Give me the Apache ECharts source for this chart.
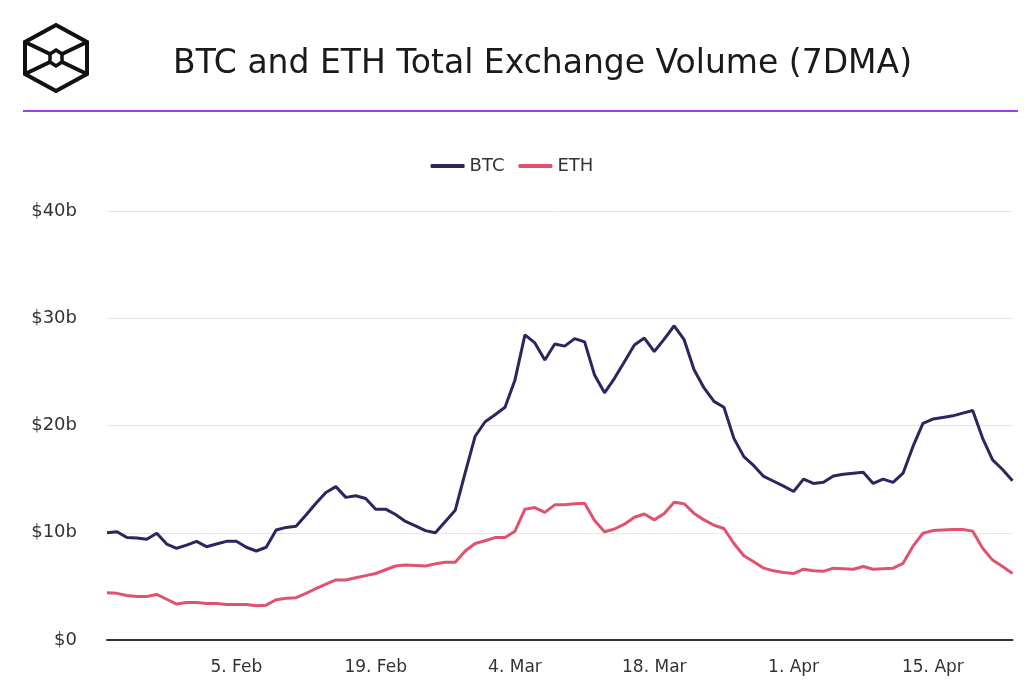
<!DOCTYPE html>
<html>
<head>
<meta charset="utf-8">
<script src="https://cdn.jsdelivr.net/npm/echarts@6/dist/echarts.min.js"></script>
<style>
html,body{margin:0;padding:0;background:#fff;}
#chart{width:1024px;height:689px;}
</style>
</head>
<body>
<div id="chart"></div>
<script>
// ---- Data ----
var startDate = '2024-01-23';
var btcValues = [10.0,10.1,9.55,9.5,9.4,9.95,8.95,8.55,8.85,9.2,8.7,8.95,9.2,9.2,8.65,8.3,8.65,10.25,10.5,10.6,
  11.65,12.75,13.75,14.3,13.3,13.45,13.2,12.2,12.2,11.7,11.05,10.65,10.2,10.0,11.05,12.1,15.6,19.0,20.35,21.0,
  21.7,24.25,28.45,27.7,26.1,27.6,27.4,28.1,27.8,24.7,23.05,24.4,25.95,27.5,28.15,26.9,28.05,29.3,28.0,25.2,
  23.5,22.25,21.7,18.8,17.1,16.25,15.25,14.8,14.35,13.85,15.0,14.6,14.7,15.3,15.45,15.55,15.65,14.6,15.0,14.7,
  15.55,18.05,20.2,20.6,20.75,20.9,21.15,21.4,18.8,16.8,15.9,14.85];
var ethValues = [4.4,4.35,4.15,4.05,4.05,4.25,3.8,3.35,3.5,3.5,3.4,3.4,3.3,3.3,3.3,3.2,3.25,3.75,3.9,3.95,
  4.35,4.8,5.2,5.6,5.6,5.8,6.0,6.2,6.55,6.9,7.0,6.95,6.9,7.1,7.25,7.25,8.3,9.0,9.25,9.55,
  9.55,10.15,12.2,12.35,11.9,12.6,12.6,12.7,12.75,11.15,10.1,10.35,10.8,11.45,11.75,11.2,11.8,12.85,12.7,11.8,
  11.2,10.7,10.4,9.0,7.85,7.3,6.7,6.45,6.3,6.2,6.6,6.45,6.4,6.7,6.65,6.6,6.85,6.6,6.65,6.7,
  7.15,8.75,9.95,10.2,10.25,10.3,10.3,10.15,8.55,7.45,6.85,6.2];
var tickDates = ['2024-02-05','2024-02-19','2024-03-04','2024-03-18','2024-04-01','2024-04-15'];
var tickLabels = ['5. Feb','19. Feb','4. Mar','18. Mar','1. Apr','15. Apr'];
var yTicks = [0,10,20,30,40];
var yTickLabels = ['$0','$10b','$20b','$30b','$40b'];

// category dates
var categories = [];
(function(){
  var d = new Date(startDate + 'T00:00:00Z');
  for (var i = 0; i < btcValues.length; i++) {
    categories.push(d.toISOString().slice(0,10));
    d.setUTCDate(d.getUTCDate() + 1);
  }
})();

var FONT = '"DejaVu Sans", Inter, sans-serif';
var chart = echarts.init(document.getElementById('chart'), null, {renderer:'canvas'});
chart.setOption({
  backgroundColor:'#ffffff',
  animation:false,
  title:{
    text:'BTC and ETH Total Exchange Volume (7DMA)',
    left:168, top:43,
    textStyle:{fontFamily:FONT, fontSize:33, fontWeight:'normal', color:'#1a1a1a'}
  },
  graphic:[
    {type:'line', shape:{x1:23,y1:111,x2:1018,y2:111}, style:{stroke:'#9b3ff0', lineWidth:2}},
    {type:'polygon', shape:{points:[[56,25],[87,42],[87,74],[56,91],[25,74],[25,42]]},
      style:{fill:'none', stroke:'#111', lineWidth:4, lineJoin:'miter'}},
    {type:'polygon', shape:{points:[[56,50],[62,54],[62,62],[56,66],[50,62],[50,54]]},
      style:{fill:'none', stroke:'#111', lineWidth:3.5}},
    {type:'line', shape:{x1:25,y1:42,x2:50,y2:54}, style:{stroke:'#111', lineWidth:4}},
    {type:'line', shape:{x1:87,y1:42,x2:62,y2:54}, style:{stroke:'#111', lineWidth:4}},
    {type:'line', shape:{x1:25,y1:74,x2:50,y2:62}, style:{stroke:'#111', lineWidth:4}},
    {type:'line', shape:{x1:87,y1:74,x2:62,y2:62}, style:{stroke:'#111', lineWidth:4}}
  ],
  legend:{
    top:152, left:'center',
    data:['BTC','ETH'],
    icon:'roundRect', itemWidth:34, itemHeight:4, itemGap:14,
    textStyle:{fontFamily:FONT, fontSize:18, color:'#333'}
  },
  grid:{left:107, right:11.5, top:211, bottom:49, containLabel:false},
  xAxis:{
    type:'category',
    data:categories,
    boundaryGap:false,
    axisLine:{show:true, lineStyle:{color:'#333', width:2}},
    axisTick:{show:false},
    splitLine:{show:false},
    axisLabel:{
      interval:function(i, v){ return tickDates.indexOf(v) >= 0; },
      formatter:function(v){ var k = tickDates.indexOf(v); return k >= 0 ? tickLabels[k] : ''; },
      fontFamily:FONT, fontSize:17, color:'#333', margin:19
    }
  },
  yAxis:{
    type:'value', min:0, max:40, interval:10,
    axisLine:{show:false}, axisTick:{show:false},
    splitLine:{lineStyle:{color:'#e6e6e6', width:1}},
    axisLabel:{
      formatter:function(v){ var k = yTicks.indexOf(v); return k >= 0 ? yTickLabels[k] : ''; },
      fontFamily:FONT, fontSize:18, color:'#333', margin:30
    }
  },
  series:[
    {name:'BTC', type:'line', data:btcValues, symbol:'none', color:'#2a2660',
      lineStyle:{width:3, color:'#2a2660'}, z:3},
    {name:'ETH', type:'line', data:ethValues, symbol:'none', color:'#e0526e',
      lineStyle:{width:3, color:'#e0526e'}, z:2}
  ]
});
</script>
</body>
</html>
